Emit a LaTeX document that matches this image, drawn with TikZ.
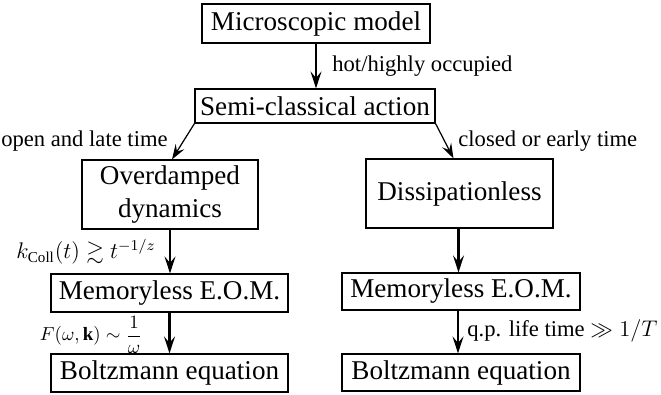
\documentclass[tikz,border=0pt,12pt]{standalone}
\usepackage{amssymb}
\usepackage{amsmath}
\usepackage{fontspec}
\setmainfont{Liberation Serif}
\usetikzlibrary{arrows.meta}
\newcommand\pxu{0.531pt}
\begin{document}
\begin{tikzpicture}[x=0.531pt,y=-0.531pt,
  box/.style={draw, line width=0.6pt, inner sep=0pt, font=\large, align=center},
  varr/.style={-{Stealth[length=9pt,width=5.8pt,inset=3.4pt]}, line width=1.15pt},
  darr/.style={-{Stealth[length=8pt,width=5.4pt,inset=3pt]}, line width=0.65pt},
  lab/.style={font=\normalsize, inner sep=0pt}]
\useasboundingbox (0,0) rectangle (661,395);
\node[box, minimum width=228*\pxu, minimum height=39*\pxu] (micro) at (316,23.5) {Microscopic model};
\node[box, minimum width=240*\pxu, minimum height=34*\pxu] (semi) at (315,106) {Semi-classical action};
\node[box, minimum width=176*\pxu, minimum height=69*\pxu] (over) at (170,194.5) {Overdamped\\dynamics};
\node[box, minimum width=187*\pxu, minimum height=69*\pxu] (diss) at (459.5,193.5) {Dissipationless};
\node[box, minimum width=237*\pxu, minimum height=38*\pxu] (memL) at (169.5,293) {Memoryless E.O.M.};
\node[box, minimum width=237*\pxu, minimum height=38*\pxu] (boltL) at (169.5,373) {Boltzmann equation};
\node[box, minimum width=238*\pxu, minimum height=37*\pxu] (memR) at (461,291.5) {Memoryless E.O.M.};
\node[box, minimum width=238*\pxu, minimum height=37*\pxu] (boltR) at (461,372.5) {Boltzmann equation};

\draw[varr] (micro.south) -- (micro.south |- semi.north);
\draw[darr] (semi.south west) -- ([xshift=2*\pxu]over.north);
\draw[darr] (semi.south east) -- ([xshift=-6*\pxu]diss.north);
\draw[varr] (over.south) -- (over.south |- memL.north);
\draw[varr] (memL.south) -- (memL.south |- boltL.north);
\draw[varr] ([xshift=-1*\pxu]diss.south) -- ([xshift=-1*\pxu]diss.south |- memR.north);
\draw[varr] ([xshift=-3*\pxu]memR.south) -- ([xshift=-3*\pxu]memR.south |- boltR.north);

\node[lab, anchor=west] (l1) at (332,66) {hot/highly occupied};
\node[lab, anchor=east] (l2) at (168,141) {open and late time};
\node[lab, anchor=west] (l3) at (458,141) {closed or early time};
\node[lab, anchor=east] (l4) at (156,252) {$k_{\mathrm{Coll}}(t)\gtrsim t^{-1/z}$};
\node[lab, anchor=east, font=\footnotesize] (l5) at (143,335) {$F(\omega,\mathbf{k})\sim\dfrac{1}{\omega}$};
\node[lab, anchor=west] (l6) at (467,331) {q.p. life time $\gg 1/T$};
\end{tikzpicture}
\end{document}
